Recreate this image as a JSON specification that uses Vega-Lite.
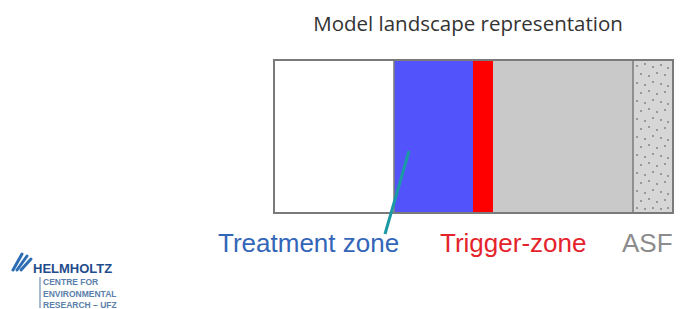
{
  "$schema": "https://vega.github.io/schema/vega-lite/v6.json",
  "width": 680,
  "height": 309,
  "padding": 0,
  "autosize": {"type": "none"},
  "background": "white",
  "config": {"view": {"stroke": null}},
  "resolve": {"scale": {"color": "independent", "size": "independent"}},
  "datasets": {
    "zones": [
      {"zone": "Untreated", "start": 274, "end": 394, "top": 60, "bottom": 213},
      {"zone": "Treatment zone", "start": 394, "end": 473, "top": 60, "bottom": 213},
      {"zone": "Trigger-zone", "start": 473, "end": 493, "top": 60, "bottom": 213},
      {"zone": "Buffer", "start": 493, "end": 633, "top": 60, "bottom": 213},
      {"zone": "ASF", "start": 633, "end": 673, "top": 60, "bottom": 213}
    ],
    "labels": [
      {"text": "Treatment zone", "x": 218, "y": 252, "kind": "Treatment zone"},
      {"text": "Trigger-zone", "x": 440, "y": 252, "kind": "Trigger-zone"},
      {"text": "ASF", "x": 622, "y": 252, "kind": "ASF"}
    ],
    "dots": [
      {"x": 637, "y": 66}, {"x": 645, "y": 64}, {"x": 653, "y": 67}, {"x": 661, "y": 65}, {"x": 668, "y": 68},
      {"x": 641, "y": 74}, {"x": 649, "y": 76}, {"x": 657, "y": 73}, {"x": 665, "y": 75},
      {"x": 637, "y": 83}, {"x": 645, "y": 85}, {"x": 653, "y": 82}, {"x": 661, "y": 84}, {"x": 668, "y": 86},
      {"x": 641, "y": 93}, {"x": 649, "y": 91}, {"x": 657, "y": 94}, {"x": 665, "y": 92},
      {"x": 637, "y": 101}, {"x": 645, "y": 103}, {"x": 653, "y": 100}, {"x": 661, "y": 102}, {"x": 668, "y": 104},
      {"x": 641, "y": 111}, {"x": 649, "y": 109}, {"x": 657, "y": 112}, {"x": 665, "y": 110},
      {"x": 637, "y": 119}, {"x": 645, "y": 121}, {"x": 653, "y": 118}, {"x": 661, "y": 120}, {"x": 668, "y": 122},
      {"x": 641, "y": 129}, {"x": 649, "y": 127}, {"x": 657, "y": 130}, {"x": 665, "y": 128},
      {"x": 637, "y": 137}, {"x": 645, "y": 139}, {"x": 653, "y": 136}, {"x": 661, "y": 138}, {"x": 668, "y": 140},
      {"x": 641, "y": 147}, {"x": 649, "y": 145}, {"x": 657, "y": 148}, {"x": 665, "y": 146},
      {"x": 637, "y": 155}, {"x": 645, "y": 157}, {"x": 653, "y": 154}, {"x": 661, "y": 156}, {"x": 668, "y": 158},
      {"x": 641, "y": 165}, {"x": 649, "y": 163}, {"x": 657, "y": 166}, {"x": 665, "y": 164},
      {"x": 637, "y": 173}, {"x": 645, "y": 175}, {"x": 653, "y": 172}, {"x": 661, "y": 174}, {"x": 668, "y": 176},
      {"x": 641, "y": 183}, {"x": 649, "y": 181}, {"x": 657, "y": 184}, {"x": 665, "y": 182},
      {"x": 637, "y": 191}, {"x": 645, "y": 193}, {"x": 653, "y": 190}, {"x": 661, "y": 192}, {"x": 668, "y": 194},
      {"x": 641, "y": 201}, {"x": 649, "y": 199}, {"x": 657, "y": 202}, {"x": 665, "y": 200},
      {"x": 637, "y": 208}, {"x": 645, "y": 209}, {"x": 653, "y": 208}, {"x": 661, "y": 209}, {"x": 668, "y": 208}
    ],
    "logo": [
      {"text": "HELMHOLTZ", "x": 33, "y": 273, "kind": "head"},
      {"text": "CENTRE FOR", "x": 43, "y": 285, "kind": "sub"},
      {"text": "ENVIRONMENTAL", "x": 43, "y": 297, "kind": "sub"},
      {"text": "RESEARCH – UFZ", "x": 43, "y": 308, "kind": "sub"}
    ],
    "swoosh": [
      {"x": 13, "y": 270, "x2": 22, "y2": 254},
      {"x": 17, "y": 270, "x2": 27, "y2": 256},
      {"x": 21, "y": 270, "x2": 31, "y2": 259}
    ]
  },
  "layer": [
    {
      "data": {"name": "zones"},
      "mark": {"type": "rect", "stroke": null},
      "encoding": {
        "x": {"field": "start", "type": "quantitative", "scale": {"domain": [0, 680], "nice": false, "zero": false}, "axis": null},
        "x2": {"field": "end"},
        "y": {"field": "top", "type": "quantitative", "scale": {"domain": [0, 309], "reverse": true, "nice": false, "zero": false}, "axis": null},
        "y2": {"field": "bottom"},
        "color": {"field": "zone", "type": "nominal", "legend": null,
          "scale": {"domain": ["Untreated", "Treatment zone", "Trigger-zone", "Buffer", "ASF"],
                    "range": ["#ffffff", "#5353fb", "#fe0000", "#c9c9c9", "#d6d6d6"]}}
      }
    },
    {
      "data": {"name": "dots"},
      "mark": {"type": "point", "filled": true, "size": 4, "color": "#7a7a7a", "opacity": 0.9},
      "encoding": {
        "x": {"field": "x", "type": "quantitative"},
        "y": {"field": "y", "type": "quantitative"}
      }
    },
    {
      "data": {"values": [{"pos": 394}, {"pos": 633}]},
      "mark": {"type": "rule", "color": "#7a7a7a"},
      "encoding": {
        "x": {"field": "pos", "type": "quantitative"},
        "y": {"datum": 60},
        "y2": {"datum": 213},
        "strokeWidth": {"value": 1.5}
      }
    },
    {
      "data": {"values": [{"start": 274, "end": 673, "top": 60, "bottom": 213}]},
      "mark": {"type": "rect", "fill": null, "fillOpacity": 0, "stroke": "#7a7a7a", "strokeWidth": 2},
      "encoding": {
        "x": {"field": "start", "type": "quantitative"},
        "x2": {"field": "end"},
        "y": {"field": "top", "type": "quantitative"},
        "y2": {"field": "bottom"}
      }
    },
    {
      "data": {"values": [{"x": 409, "y": 151, "x2": 385, "y2": 234}]},
      "mark": {"type": "rule", "color": "#1b9aa6", "strokeWidth": 3},
      "encoding": {
        "x": {"field": "x", "type": "quantitative"},
        "x2": {"field": "x2"},
        "y": {"field": "y", "type": "quantitative"},
        "y2": {"field": "y2"}
      }
    },
    {
      "data": {"values": [{"text": "Model landscape representation", "x": 468, "y": 31}]},
      "mark": {"type": "text", "font": "Open Sans", "fontSize": 20.5, "color": "#333333", "align": "center", "baseline": "alphabetic"},
      "encoding": {
        "x": {"field": "x", "type": "quantitative"},
        "y": {"field": "y", "type": "quantitative"},
        "text": {"field": "text"}
      }
    },
    {
      "data": {"name": "labels"},
      "mark": {"type": "text", "font": "Liberation Sans", "fontSize": 26, "align": "left", "baseline": "alphabetic"},
      "encoding": {
        "x": {"field": "x", "type": "quantitative"},
        "y": {"field": "y", "type": "quantitative"},
        "text": {"field": "text"},
        "color": {"field": "kind", "type": "nominal", "legend": null,
          "scale": {"domain": ["Treatment zone", "Trigger-zone", "ASF"], "range": ["#3366b8", "#e4232b", "#8c8c8c"]}}
      }
    },
    {
      "data": {"name": "swoosh"},
      "mark": {"type": "rule", "color": "#2d6db5", "strokeWidth": 3, "strokeCap": "round"},
      "encoding": {
        "x": {"field": "x", "type": "quantitative"},
        "x2": {"field": "x2"},
        "y": {"field": "y", "type": "quantitative"},
        "y2": {"field": "y2"}
      }
    },
    {
      "data": {"values": [{"x": 40, "y": 277, "y2": 308}]},
      "mark": {"type": "rule", "color": "#6f8db0", "strokeWidth": 1.2},
      "encoding": {
        "x": {"field": "x", "type": "quantitative"},
        "y": {"field": "y", "type": "quantitative"},
        "y2": {"field": "y2"}
      }
    },
    {
      "data": {"name": "logo"},
      "mark": {"type": "text", "font": "Liberation Sans", "fontWeight": "bold", "align": "left", "baseline": "alphabetic"},
      "encoding": {
        "x": {"field": "x", "type": "quantitative"},
        "y": {"field": "y", "type": "quantitative"},
        "text": {"field": "text"},
        "size": {"field": "kind", "type": "nominal", "legend": null, "scale": {"domain": ["head", "sub"], "range": [13, 8.5]}},
        "color": {"field": "kind", "type": "nominal", "legend": null, "scale": {"domain": ["head", "sub"], "range": ["#1f4c8c", "#5b80aa"]}}
      }
    }
  ]
}
